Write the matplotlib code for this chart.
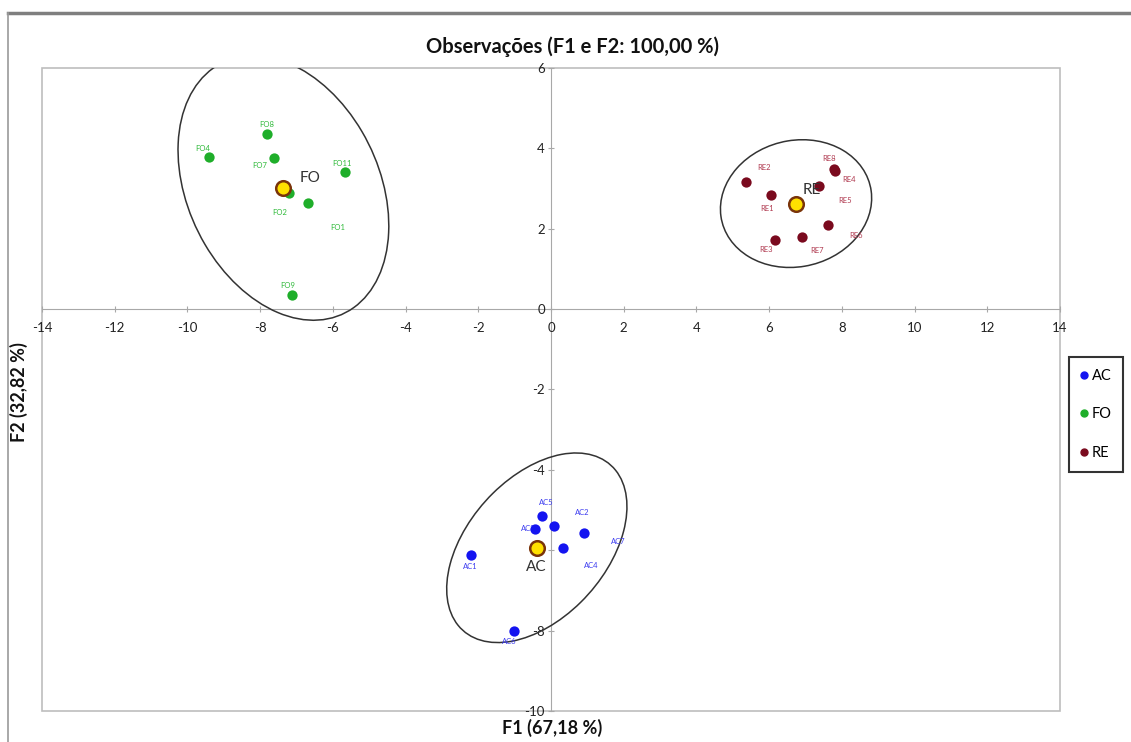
import matplotlib
matplotlib.use("Agg")
import matplotlib.pyplot as plt
from matplotlib.patches import Ellipse, Rectangle
from matplotlib.lines import Line2D

plt.rcParams['font.family'] = ['Lato', 'DejaVu Sans']
plt.rcParams['axes.unicode_minus'] = False

fo_names = ['FO8', 'FO4', 'FO7', 'FO11', 'FO2', 'FO1', 'FO9']
fo_x = [-7.82, -9.42, -7.62, -5.66, -7.21, -6.69, -7.13]
fo_y = [4.36, 3.79, 3.75, 3.40, 2.88, 2.63, 0.35]

re_names = ['RE2', 'RE8', 'RE4', 'RE5', 'RE1', 'RE6', 'RE7', 'RE3']
re_x = [5.35, 7.78, 7.80, 7.38, 6.04, 7.63, 6.91, 6.17]
re_y = [3.15, 3.49, 3.43, 3.07, 2.84, 2.10, 1.80, 1.72]

ac_names = ['AC5', 'AC2', 'AC3', 'AC7', 'AC4', 'AC1', 'AC6']
ac_x = [-0.24, 0.07, -0.45, 0.90, 0.34, -2.19, -1.01]
ac_y = [-5.14, -5.40, -5.47, -5.58, -5.94, -6.11, -8.01]

# group centroids and their confidence ellipses (center, width, height, angle)
groups = ['AC', 'FO', 'RE']
cent_x = [-0.39, -7.36, 6.74]
cent_y = [-5.94, 3.01, 2.62]
ell_w = [5.80, 7.10, 4.18]
ell_h = [3.63, 5.15, 3.15]
ell_ang = [41.7, -57.0, 8.7]

# label offsets in pixels (dx, dy down)
lab_off = {
    'FO8': (0, -9), 'FO4': (-6, -8), 'FO7': (-14, 7), 'FO11': (-3, -9),
    'FO2': (-9, 19), 'FO1': (30, 24), 'FO9': (-4, -9),
    'RE2': (18, -15), 'RE8': (-5, -10), 'RE4': (14, 8), 'RE5': (26, 15),
    'RE1': (-4, 14), 'RE6': (28, 11), 'RE7': (15, 14), 'RE3': (-9, 10),
    'AC5': (4, -13), 'AC2': (29, -14), 'AC3': (-6, 0), 'AC7': (34, 8),
    'AC4': (28, 18), 'AC1': (-1, 12), 'AC6': (-5, 11),
}
cent_off = {'AC': (-1, 19, 'center'), 'FO': (16, -10, 'left'), 'RE': (7, -14, 'left')}

colors = {'AC': '#1414f0', 'FO': '#1fae2a', 'RE': '#7a0a1e'}
lab_colors = {'AC': '#3c3cf0', 'FO': '#2fba3a', 'RE': '#b03a50'}

W, H = 1131, 742
fig = plt.figure(figsize=(W / 100, H / 100), dpi=100)
ax = fig.add_axes([42 / W, (H - 711) / H, 1018 / W, 643.3 / H])
ax.set_xlim(-14, 14)
ax.set_ylim(-10, 6)

# outer chart frame
fig.add_artist(Line2D([8 / W, 1], [1 - 13 / H, 1 - 13 / H], color='#7f7f7f', lw=2.5))
fig.add_artist(Line2D([8 / W, 8 / W], [0, 1 - 13 / H], color='#9a9a9a', lw=1.2))

# plot area box and axes through zero
ax.add_patch(Rectangle((0, 0), 1, 1, transform=ax.transAxes, fill=False,
                       ec='#bdbdbd', lw=1.2, clip_on=False, zorder=0))
for s in ['top', 'right']:
    ax.spines[s].set_visible(False)
ax.spines['left'].set_position(('data', 0))
ax.spines['bottom'].set_position(('data', 0))
ax.spines['left'].set_color('#a8a8a8')
ax.spines['bottom'].set_color('#a8a8a8')
ax.spines['left'].set_zorder(0.5)
ax.spines['bottom'].set_zorder(0.5)
ax.set_xticks(range(-14, 15, 2))
ax.set_yticks(range(-10, 7, 2))
ax.tick_params(axis='x', direction='inout', length=5, color='#a8a8a8',
               labelsize=9.5, pad=7, labelcolor='#222222')
ax.tick_params(axis='y', direction='inout', length=5, color='#a8a8a8',
               labelsize=9.5, pad=2, labelcolor='#222222')

# ellipses
for i, g in enumerate(groups):
    ax.add_patch(Ellipse((cent_x[i], cent_y[i]), ell_w[i], ell_h[i], angle=ell_ang[i],
                         fill=False, ec='#333333', lw=1.1, zorder=2))

# observations
data = {'AC': (ac_names, ac_x, ac_y), 'FO': (fo_names, fo_x, fo_y), 'RE': (re_names, re_x, re_y)}
for g in groups:
    names, xs, ys = data[g]
    ax.scatter(xs, ys, s=55, color=colors[g], zorder=4, label=g, linewidths=0)
    for n, x, y in zip(names, xs, ys):
        dx, dy = lab_off[n]
        ax.annotate(n, (x, y), xytext=(dx * 0.72, -dy * 0.72), textcoords='offset points',
                    ha='center', va='center', fontsize=5.5, color=lab_colors[g], zorder=3)

# centroids
ax.scatter(cent_x, cent_y, s=110, facecolor='#ffe100', edgecolor='#7a340a', lw=1.8, zorder=5)
for i, g in enumerate(groups):
    dx, dy, ha = cent_off[g]
    ax.annotate(g, (cent_x[i], cent_y[i]), xytext=(dx * 0.72, -dy * 0.72),
                textcoords='offset points', ha=ha, va='center', fontsize=11,
                color='#333333', zorder=6)

fig.text(572 / W, 1 - 47 / H, 'Observações (F1 e F2: 100,00 %)', ha='center', va='center',
         fontsize=14.5, fontweight='bold', color='#111111')
fig.text(552 / W, 1 - 728 / H, 'F1 (67,18 %)', ha='center', va='center',
         fontsize=13, fontweight='bold', color='#111111')
fig.text(19 / W, 1 - 392 / H, 'F2 (32,82 %)', ha='center', va='center', rotation=90,
         fontsize=13, fontweight='bold', color='#111111')

handles = [Line2D([], [], marker='o', ls='', ms=5, color=colors[g], label=g) for g in groups]
leg = fig.legend(handles=handles, loc='upper left', bbox_to_anchor=(1069 / W, 1 - 357 / H),
                 frameon=True, fancybox=False, fontsize=10.5, labelspacing=1.7,
                 handlelength=0.5, handletextpad=0.25, borderpad=0.8, borderaxespad=0)
leg.get_frame().set_edgecolor('black')
leg.get_frame().set_linewidth(1.5)

fig.savefig('out.png', dpi=100)
